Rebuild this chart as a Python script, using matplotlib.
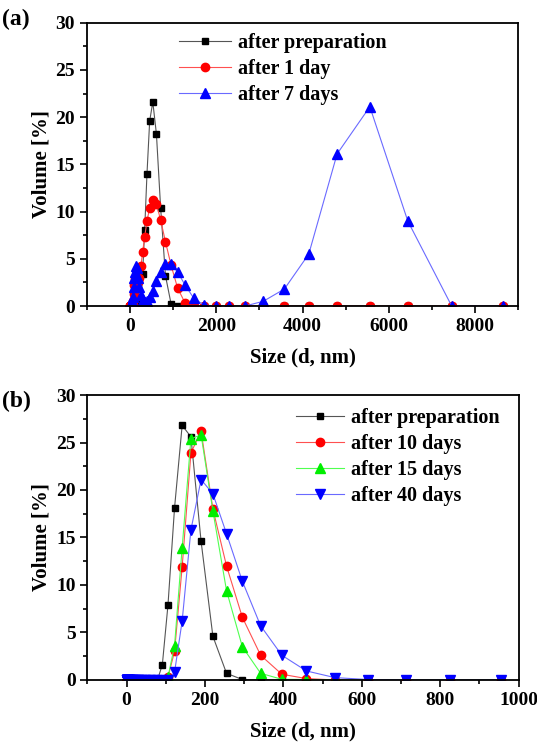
import matplotlib
matplotlib.use("Agg")
import matplotlib.pyplot as plt
from matplotlib.ticker import MultipleLocator

plt.rcParams["font.family"] = ["Liberation Serif", "DejaVu Serif"]
plt.rcParams["font.weight"] = "bold"

# DLS size bins (d, nm)
size_bins = [0.4, 0.4632, 0.5365, 0.6213, 0.7195, 0.8332, 0.9649, 1.117, 1.294, 1.499,
             1.736, 2.01, 2.328, 2.696, 3.122, 3.615, 4.187, 4.849, 5.615, 6.503,
             7.531, 8.721, 10.1, 11.7, 13.54, 15.69, 18.17, 21.04, 24.36, 28.21,
             32.67, 37.84, 43.82, 50.75, 58.77, 68.06, 78.82, 91.28, 105.7, 122.4,
             141.8, 164.2, 190.1, 220.2, 255.0, 295.3, 342.0, 396.1, 458.7, 531.2,
             615.1, 712.4, 825.0, 955.4, 1106, 1281, 1484, 1718, 1990, 2305,
             2669, 3091, 3580, 4145, 4801, 5560, 6439, 7456, 8635]

# leading bins 0.4 .. 58.77 nm (35 bins) read as zero in every series
small_zero = [0.0] * 35

# panel (a): bins 68.06 .. 8635 nm
a_prep = small_zero + [0.0, 0.0, 0.0, 0.0, 0.0, 0.0, 0.0, 0.0, 0.0, 0.3,
                       3.4, 8.0, 14.0, 19.6, 21.6, 18.2, 10.4, 3.2, 0.2, 0.0,
                       0.0, 0.0, 0.0, 0.0, 0.0, 0.0, 0.0, 0.0, 0.0, 0.0,
                       0.0, 0.0, 0.0, 0.0]
a_1day = small_zero + [0.0, 0.5, 1.3, 2.2, 2.9, 3.0, 2.8, 2.5, 3.0, 4.2,
                       5.7, 7.3, 9.0, 10.4, 11.2, 10.8, 9.1, 6.8, 4.3, 1.9,
                       0.3, 0.0, 0.0, 0.0, 0.0, 0.0, 0.0, 0.0, 0.0, 0.0,
                       0.0, 0.0, 0.0, 0.0]
a_7days = small_zero + [0.3, 1.0, 2.0, 3.0, 3.6, 4.2, 4.0, 3.0, 2.0, 1.2,
                        0.6, 0.4, 0.5, 1.0, 1.6, 2.6, 3.6, 4.4, 4.4, 3.6,
                        2.2, 0.8, 0.1, 0.0, 0.0, 0.0, 0.5, 1.8, 5.5, 16.1,
                        21.1, 9.0, 0.0, 0.0]

# panel (b): bins 0.4 .. 955.4 nm
b_size = size_bins[:54]
b_prep = small_zero + [0.0, 0.0, 1.6, 7.9, 18.1, 26.8, 25.6, 14.6, 4.6, 0.7,
                       0.05, 0.0, 0.0, 0.0, 0.0, 0.0, 0.0, 0.0, 0.0]
b_10days = small_zero + [0.0, 0.0, 0.0, 0.3, 3.0, 11.9, 23.9, 26.2, 18.0, 12.0,
                         6.6, 2.6, 0.6, 0.15, 0.0, 0.0, 0.0, 0.0, 0.0]
b_15days = small_zero + [0.0, 0.0, 0.0, 0.3, 3.6, 13.9, 25.4, 25.8, 17.8, 9.4,
                         3.5, 0.7, 0.07, 0.05, 0.0, 0.0, 0.0, 0.0, 0.0]
b_40days = small_zero + [0.0, 0.0, 0.0, 0.0, 0.8, 6.2, 15.8, 21.1, 19.6, 15.4,
                         10.4, 5.7, 2.6, 0.95, 0.25, 0.05, 0.0, 0.0, 0.0]

fig = plt.figure(figsize=(5.37, 7.46), dpi=100)
ax_a = fig.add_axes([0.1615, 0.5898, 0.8037, 0.3798])
ax_b = fig.add_axes([0.1626, 0.0885, 0.8033, 0.3820])

line_kw = dict(lw=0.8)

ax_a.plot(size_bins, a_prep, color="#555555", marker="s", ms=5, mfc="black", mec="black",
          label="after preparation", **line_kw)
ax_a.plot(size_bins, a_1day, color="#ff5050", marker="o", ms=6, mfc="red", mec="red",
          label="after 1 day", **line_kw)
ax_a.plot(size_bins, a_7days, color="#6a6aff", marker="^", ms=7, mfc="blue", mec="blue",
          label="after 7 days", **line_kw)

ax_b.plot(b_size, b_prep, color="#555555", marker="s", ms=5, mfc="black", mec="black",
          label="after preparation", **line_kw)
ax_b.plot(b_size, b_10days, color="#ff5050", marker="o", ms=6, mfc="red", mec="red",
          label="after 10 days", **line_kw)
ax_b.plot(b_size, b_15days, color="#50ff50", marker="^", ms=7, mfc="#00ee00", mec="#00ee00",
          label="after 15 days", **line_kw)
ax_b.plot(b_size, b_40days, color="#6a6aff", marker="v", ms=7, mfc="blue", mec="blue",
          label="after 40 days", **line_kw)

ax_a.set_xlim(-1000, 9000)
ax_a.xaxis.set_major_locator(MultipleLocator(2000))
ax_a.xaxis.set_minor_locator(MultipleLocator(1000))
ax_b.set_xlim(-100, 1000)
ax_b.xaxis.set_major_locator(MultipleLocator(200))
ax_b.xaxis.set_minor_locator(MultipleLocator(100))

for ax in (ax_a, ax_b):
    ax.set_ylim(0, 30)
    ax.yaxis.set_major_locator(MultipleLocator(5))
    ax.yaxis.set_minor_locator(MultipleLocator(2.5))
    ax.tick_params(which="both", direction="out", top=False, right=False,
                   labelsize=14, width=1.2)
    ax.tick_params(which="major", length=5)
    ax.tick_params(which="minor", length=3)
    for sp in ax.spines.values():
        sp.set_linewidth(1.3)
    for lab in ax.get_xticklabels() + ax.get_yticklabels():
        lab.set_fontweight("bold")
    ax.set_xlabel("Size (d, nm)", fontsize=15, fontweight="bold", labelpad=9)
    ax.set_ylabel("Volume [%]", fontsize=15, fontweight="bold", labelpad=3)

ax_a.legend(loc="upper left", bbox_to_anchor=(0.19, 1.0), frameon=False,
            prop=dict(size=14.5, weight="bold"), handlelength=2.6,
            handletextpad=0.35, labelspacing=0.3, borderaxespad=0.1)
ax_b.legend(loc="upper right", bbox_to_anchor=(0.985, 1.0), frameon=False,
            prop=dict(size=14.5, weight="bold"), handlelength=2.4,
            handletextpad=0.3, labelspacing=0.3, borderaxespad=0.25)

fig.text(0.003, 0.974, "(a)", fontsize=17, fontweight="bold", va="center")
fig.text(0.003, 0.462, "(b)", fontsize=17, fontweight="bold", va="center")

fig.savefig("out.png", dpi=100)
